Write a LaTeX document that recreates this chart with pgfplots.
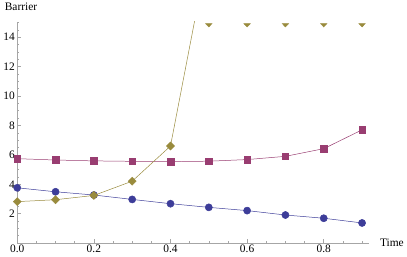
\documentclass[border=0pt]{standalone}
\usepackage{fontspec}
\setmainfont{Liberation Serif}
\usepackage{pgfplots}
\pgfplotsset{compat=1.18}
\definecolor{mblue}{rgb}{0.24,0.24,0.6}
\definecolor{mmag}{rgb}{0.6,0.24,0.443}
\definecolor{molive}{rgb}{0.6,0.547,0.24}
\begin{document}
\begin{tikzpicture}
\begin{axis}[
  scale only axis, width=354pt, height=223pt,
  xmin=0, xmax=0.917, ymin=0, ymax=15.05,
  axis lines=left,
  axis line style={-, draw=gray!70, line width=0.6pt},
  every tick/.style={draw=gray!70, line width=0.5pt},
  tick align=inside,
  major tick length=4pt, minor tick length=2.2pt,
  xtick={0,0.2,0.4,0.6,0.8},
  xticklabels={0.0,0.2,0.4,0.6,0.8},
  minor xtick={0.05,0.1,...,0.91},
  ytick={2,4,...,14},
  minor ytick={0.5,1,...,15},
  tick label style={font=\fontsize{11.5}{13}\selectfont},
  /pgf/number format/assume math mode=true,
  xticklabel style={yshift=1.5pt},
  yticklabel style={xshift=1pt},
  clip mode=individual,
]
\addplot[mblue, line width=0.5pt, mark=*, mark size=3.6pt, mark options={draw=mblue, fill=mblue}]
  coordinates {(0,3.76) (0.1,3.49) (0.2,3.27) (0.3,2.97) (0.4,2.68) (0.5,2.43) (0.6,2.21) (0.7,1.91) (0.8,1.69) (0.9,1.37)};
\addplot[mmag, line width=0.5pt, mark=square*, mark size=3.3pt, mark options={draw=mmag, fill=mmag}]
  coordinates {(0,5.74) (0.1,5.65) (0.2,5.59) (0.3,5.56) (0.4,5.54) (0.5,5.57) (0.6,5.68) (0.7,5.90) (0.8,6.42) (0.9,7.70)};
\addplot[molive, line width=0.5pt, no marks]
  coordinates {(0,2.82) (0.1,2.95) (0.2,3.24) (0.3,4.21) (0.4,6.60) (0.5,20.1)};
\addplot[molive, only marks, mark=square*, mark size=2.9pt, mark options={draw=molive, fill=molive, rotate=45}]
  coordinates {(0,2.82) (0.1,2.95) (0.2,3.24) (0.3,4.21) (0.4,6.60)};
\addplot[molive, only marks, mark=triangle*, mark size=3.8pt, mark options={draw=molive, fill=molive, rotate=180, yscale=0.6}]
  coordinates {(0.5,14.85) (0.6,14.85) (0.7,14.85) (0.8,14.85) (0.9,14.85)};
\node[anchor=base west, font=\fontsize{11.5}{13}\selectfont] at (rel axis cs:0,1) [xshift=-16pt, yshift=11pt] {Barrier};
\node[anchor=west, font=\fontsize{11.5}{13}\selectfont] at (rel axis cs:1,0) [xshift=8pt] {Time};
\end{axis}
\end{tikzpicture}
\end{document}
